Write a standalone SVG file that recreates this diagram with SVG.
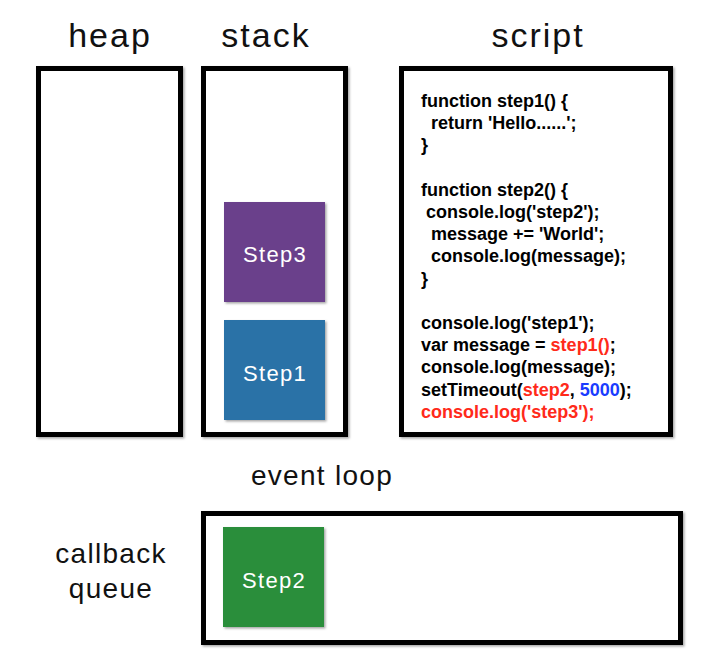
<svg xmlns="http://www.w3.org/2000/svg" width="708" height="670" viewBox="0 0 708 670">
<style>
.title{font-family:"Liberation Sans",Arial,sans-serif;font-size:34px;letter-spacing:2px;fill:#111;text-anchor:middle}
.label{font-family:"Liberation Sans",Arial,sans-serif;font-size:28px;letter-spacing:1.3px;fill:#111;text-anchor:middle}
.box{fill:#fff;stroke:#000;stroke-width:5}
.code{font-family:"Liberation Sans",Arial,sans-serif;font-size:18px;font-weight:bold;fill:#000}
.red{fill:#ff2a1a}
.blue{fill:#1a3cff}
.step{font-family:"Liberation Sans",Arial,sans-serif;font-size:22px;letter-spacing:1.3px;fill:#fff;text-anchor:middle}
</style>
<defs>
<filter id="sh" x="-10%" y="-10%" width="120%" height="120%">
<feDropShadow dx="1.5" dy="1.5" stdDeviation="1" flood-color="#000" flood-opacity="0.35"/>
</filter>
</defs>
<rect width="708" height="670" fill="#fff"/>
<g id="heap">
<text class="title" x="110" y="47">heap</text>
<rect class="box" x="38.5" y="68.5" width="142" height="366" filter="url(#sh)"/>
</g>
<g id="stack">
<text class="title" x="266" y="47">stack</text>
<rect class="box" x="203.5" y="68.5" width="142" height="366" filter="url(#sh)"/>
</g>
<g id="script">
<text class="title" x="538" y="47">script</text>
<rect class="box" x="401.5" y="68.5" width="269" height="366" filter="url(#sh)"/>
<text class="code" x="421" y="107">function step1() {</text>
<text class="code" x="431" y="129.2">return 'Hello......';</text>
<text class="code" x="421" y="151.4">}</text>
<text class="code" x="421" y="195.8">function step2() {</text>
<text class="code" x="426" y="218">console.log('step2');</text>
<text class="code" x="431" y="240.2">message += 'World';</text>
<text class="code" x="431" y="262.4">console.log(message);</text>
<text class="code" x="421" y="284.6">}</text>
<text class="code" x="421" y="329">console.log('step1');</text>
<text class="code" x="421" y="351.2">var message = <tspan class="red">step1()</tspan>;</text>
<text class="code" x="421" y="373.4">console.log(message);</text>
<text class="code" x="421" y="395.6">setTimeout(<tspan class="red">step2</tspan>, <tspan class="blue">5000</tspan>);</text>
<text class="code red" x="421" y="417.8">console.log('step3');</text>
</g>
<g id="step3">
<rect x="224" y="202" width="101" height="100" fill="#6a3f8b" filter="url(#sh)"/>
<text class="step" x="275" y="262">Step3</text>
</g>
<g id="step1">
<rect x="224" y="320" width="101" height="100" fill="#2c72a7" filter="url(#sh)"/>
<text class="step" x="275" y="381">Step1</text>
</g>
<g id="event-loop">
<text class="label" x="322" y="485">event loop</text>
</g>
<g id="callback-queue">
<text class="label" x="111" y="563">callback</text>
<text class="label" x="111" y="598">queue</text>
<rect class="box" x="203.5" y="513.5" width="477" height="129" filter="url(#sh)"/>
</g>
<g id="step2">
<rect x="223" y="527" width="101" height="100" fill="#2b8e3b" filter="url(#sh)"/>
<text class="step" x="274" y="588">Step2</text>
</g>
<g id="connectors"></g>
</svg>
